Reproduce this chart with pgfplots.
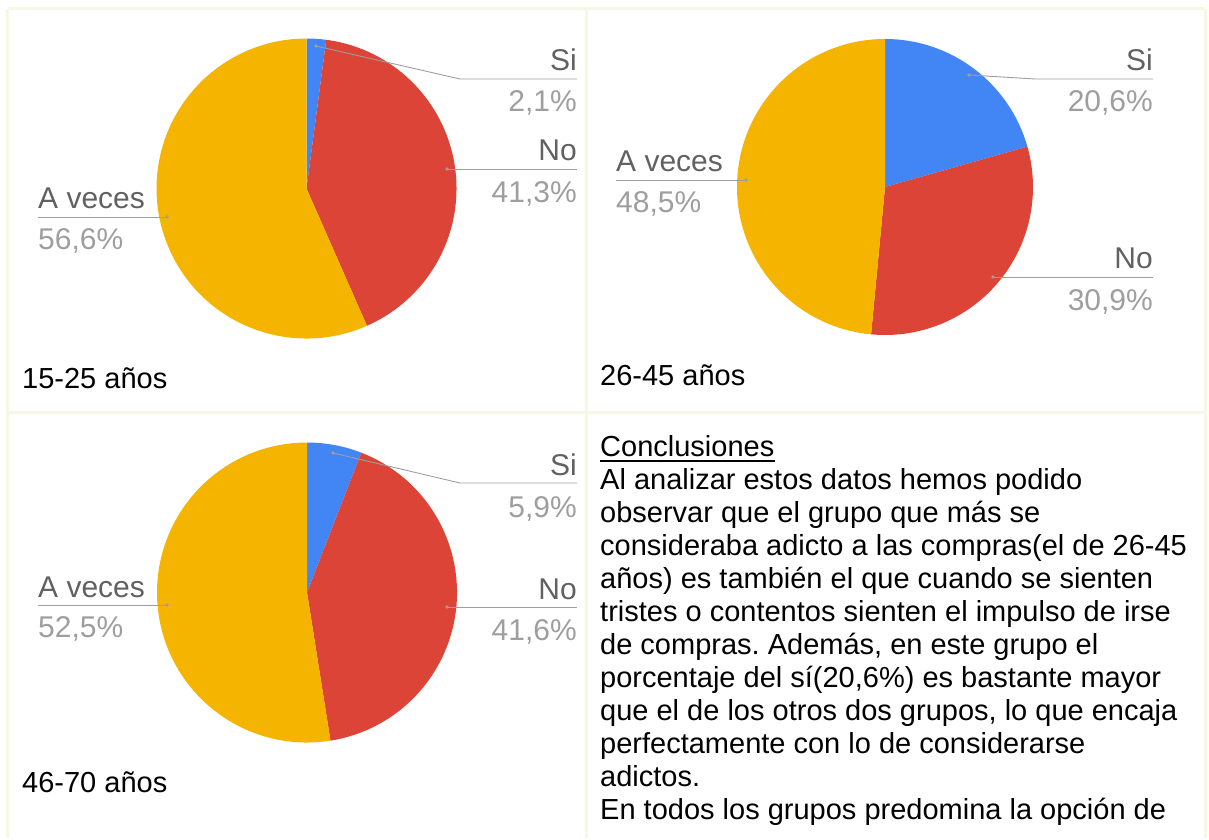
\documentclass[border=0pt]{standalone}
\usepackage{pgfplots}
\pgfplotsset{compat=1.18}
\usepackage{fontspec}
\setmainfont{Liberation Sans}
\frenchspacing
\definecolor{cBlue}{HTML}{4285F4}
\definecolor{cRed}{HTML}{DB4437}
\definecolor{cYel}{HTML}{F4B400}
\definecolor{cName}{HTML}{616161}
\definecolor{cPct}{HTML}{9E9E9E}
\definecolor{cGrid}{HTML}{F6F7E4}
\newcommand\lbl{\fontsize{30}{36}\selectfont}
\newcommand\txt{\fontsize{29}{33}\selectfont}
% pie: cx, cy, r, Si%, No%  (A veces = rest)
\newcommand\pie[5]{%
  \fill[cBlue] (axis cs:#1,#2) -- ++(90:#3pt) arc[start angle=90,end angle={90-3.6*#4},radius=#3pt] -- cycle;
  \fill[cRed] (axis cs:#1,#2) -- ++({90-3.6*#4}:#3pt) arc[start angle={90-3.6*#4},end angle={90-3.6*(#4+#5)},radius=#3pt] -- cycle;
  \fill[cYel] (axis cs:#1,#2) -- ++({90-3.6*(#4+#5)}:#3pt) arc[start angle={90-3.6*(#4+#5)},end angle=-270,radius=#3pt] -- cycle;
}
\begin{document}
\begin{tikzpicture}
\begin{axis}[width=1209pt,height=838pt,scale only axis,
  xmin=0,xmax=1209,ymin=0,ymax=838,y dir=reverse,
  axis lines=none,ticks=none,clip=false]
\addplot[draw=none] coordinates {(0,0) (1209,838)};
% grid
\draw[cGrid,line width=3pt] (axis cs:7.5,9) -- (axis cs:1205,9);
\draw[cGrid,line width=3pt] (axis cs:7.5,9) -- (axis cs:7.5,838);
\draw[cGrid,line width=3pt] (axis cs:586,9) -- (axis cs:586,838);
\draw[cGrid,line width=3pt] (axis cs:1205,9) -- (axis cs:1205,838);
\draw[cGrid,line width=3pt] (axis cs:7.5,412) -- (axis cs:1205,412);
% pies
\pie{306.5}{188.5}{150}{2.1}{41.3}
\pie{885}{187}{148}{20.6}{30.9}
\pie{307}{592.5}{150}{5.9}{41.6}
% leader lines
\begin{scope}[cPct,line width=0.9pt]
\draw (axis cs:316,46) -- (axis cs:460,79) -- (axis cs:577,79);
\draw (axis cs:447,169) -- (axis cs:577,169);
\draw (axis cs:38,217) -- (axis cs:167,217);
\draw (axis cs:969,75) -- (axis cs:1035,79) -- (axis cs:1153,79);
\draw (axis cs:993,277) -- (axis cs:1153,277);
\draw (axis cs:616,180) -- (axis cs:746,180);
\draw (axis cs:333,453) -- (axis cs:460,483) -- (axis cs:577,483);
\draw (axis cs:447,607) -- (axis cs:577,607);
\draw (axis cs:38,605) -- (axis cs:167,605);
\fill (axis cs:316,46) circle[radius=1.8pt];
\fill (axis cs:447,169) circle[radius=1.8pt];
\fill (axis cs:167,217) circle[radius=1.8pt];
\fill (axis cs:969,75) circle[radius=1.8pt];
\fill (axis cs:993,277) circle[radius=1.8pt];
\fill (axis cs:746,180) circle[radius=1.8pt];
\fill (axis cs:333,453) circle[radius=1.8pt];
\fill (axis cs:447,607) circle[radius=1.8pt];
\fill (axis cs:167,605) circle[radius=1.8pt];
\end{scope}
% labels
\begin{scope}[every node/.style={inner sep=0pt,font=\lbl}]
\node[anchor=base east,text=cName] at (axis cs:577,71) {Si};
\node[anchor=base east,text=cPct] at (axis cs:577,112) {2,1\%};
\node[anchor=base east,text=cName] at (axis cs:577,161) {No};
\node[anchor=base east,text=cPct] at (axis cs:577,203) {41,3\%};
\node[anchor=base west,text=cName] at (axis cs:38,209) {A veces};
\node[anchor=base west,text=cPct] at (axis cs:38,250) {56,6\%};
\node[anchor=base east,text=cName] at (axis cs:1153,71) {Si};
\node[anchor=base east,text=cPct] at (axis cs:1153,112) {20,6\%};
\node[anchor=base east,text=cName] at (axis cs:1153,269) {No};
\node[anchor=base east,text=cPct] at (axis cs:1153,310) {30,9\%};
\node[anchor=base west,text=cName] at (axis cs:616,172) {A veces};
\node[anchor=base west,text=cPct] at (axis cs:616,213) {48,5\%};
\node[anchor=base east,text=cName] at (axis cs:577,475) {Si};
\node[anchor=base east,text=cPct] at (axis cs:577,517) {5,9\%};
\node[anchor=base east,text=cName] at (axis cs:577,599) {No};
\node[anchor=base east,text=cPct] at (axis cs:577,640) {41,6\%};
\node[anchor=base west,text=cName] at (axis cs:38,597) {A veces};
\node[anchor=base west,text=cPct] at (axis cs:38,637) {52,5\%};
\end{scope}
\begin{scope}[every node/.style={inner sep=0pt,font=\txt,anchor=base west,text=black}]
\node at (axis cs:22,388) {15-25 años};
\node at (axis cs:600,385) {26-45 años};
\node at (axis cs:22,792) {46-70 años};
\node (C) at (axis cs:600,456) {Conclusiones};
\draw[black,line width=1.5pt] ([yshift=-5pt]C.base west) -- ([yshift=-5pt]C.base east);
\node at (axis cs:600,489) {Al analizar estos datos hemos podido};
\node at (axis cs:600,522) {observar que el grupo que más se};
\node at (axis cs:600,555) {consideraba adicto a las compras(el de 26-45};
\node at (axis cs:600,588) {años) es también el que cuando se sienten};
\node at (axis cs:600,621) {tristes o contentos sienten el impulso de irse};
\node at (axis cs:600,654) {de compras. Además, en este grupo el};
\node at (axis cs:600,687) {porcentaje del sí(20,6\%) es bastante mayor};
\node at (axis cs:600,720) {que el de los otros dos grupos, lo que encaja};
\node at (axis cs:600,753) {perfectamente con lo de considerarse};
\node at (axis cs:600,786) {adictos.};
\node at (axis cs:600,819) {En todos los grupos predomina la opción de};
\end{scope}
\end{axis}
\end{tikzpicture}
\end{document}
